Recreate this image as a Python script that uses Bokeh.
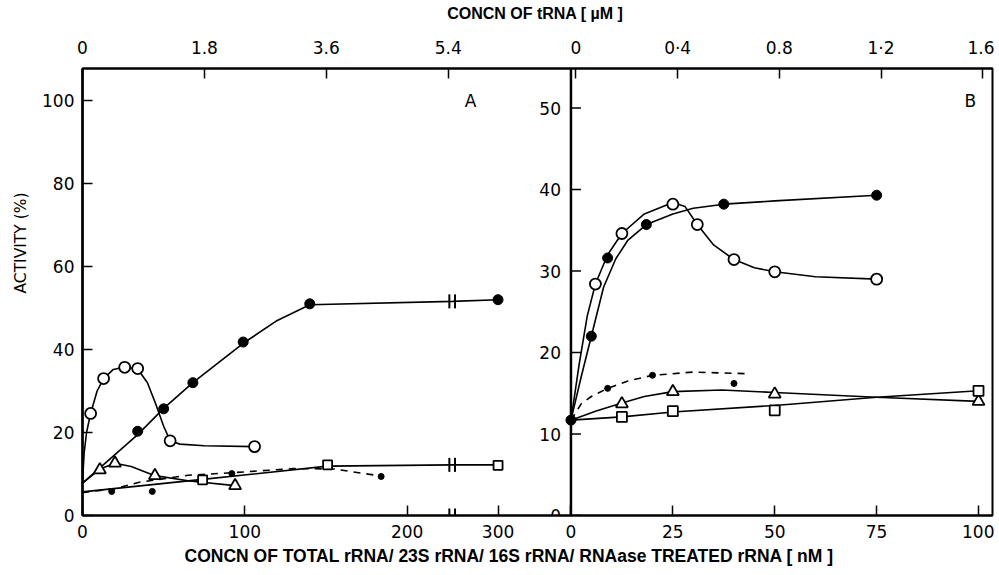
from bokeh.plotting import figure
from bokeh.models import Range1d, LinearAxis, FixedTicker, Label, Title
from bokeh.core.properties import value
from bokeh.embed import file_html
from bokeh.resources import INLINE

# ---------------- data ----------------
# Panel A : x = concentration of rRNA [nM], y = activity (%)
a_open_x = [5, 13, 26, 34, 54, 106]
a_open_y = [24.6, 33.0, 35.7, 35.4, 18.0, 16.6]
a_open_curve_x = [0, 1, 2.5, 5, 9, 13, 19, 26, 34, 40, 45, 50, 54, 60, 75, 106]
a_open_curve_y = [8.0, 15.0, 20.0, 24.6, 30.0, 33.0, 35.2, 35.8, 35.3, 32.0, 27.0, 21.5, 18.0, 17.2, 16.8, 16.6]

a_filled_x = [34, 50, 68, 99, 140, 300]
a_filled_y = [20.3, 25.7, 32.0, 41.8, 51.0, 52.0]
a_filled_curve_x = [0, 34, 50, 68, 99, 120, 140, 228, 300]
a_filled_curve_y = [7.8, 19.5, 25.8, 32.0, 41.5, 47.0, 50.8, 51.6, 52.0]

a_tri_x = [10.7, 20, 44.6, 94]
a_tri_y = [11.0, 12.6, 9.6, 7.2]
a_tri_curve_x = [0, 10.7, 20, 30, 44.6, 66, 94]
a_tri_curve_y = [7.8, 11.2, 12.6, 11.8, 9.6, 8.3, 7.2]

a_sq_x = [74, 151, 300]
a_sq_y = [8.6, 12.2, 12.1]
a_sq_curve_x = [0, 74, 151, 228, 300]
a_sq_curve_y = [5.7, 8.7, 11.9, 12.2, 12.2]

a_dot_x = [18, 43, 92, 184]
a_dot_y = [5.8, 5.8, 10.1, 9.4]
a_dot_curve_x = [0, 20, 35, 65, 92, 130, 155, 184]
a_dot_curve_y = [5.5, 6.5, 8.0, 9.7, 10.3, 11.3, 11.2, 9.5]

# Panel B : x = concentration [nM], y = activity (%)
b_open_x = [6, 12.5, 25, 31, 40, 50, 75]
b_open_y = [28.4, 34.6, 38.2, 35.7, 31.4, 29.9, 29.0]
b_open_curve_x = [0, 2, 4, 6, 9, 12.5, 18, 25, 28, 31, 35, 40, 45, 50, 60, 75]
b_open_curve_y = [11.7, 18.5, 24.5, 28.4, 32.0, 34.6, 37.0, 38.4, 37.9, 35.7, 33.2, 31.4, 30.4, 29.9, 29.3, 29.0]

b_filled_x = [0, 5, 9, 18.5, 37.5, 75]
b_filled_y = [11.7, 22.0, 31.6, 35.7, 38.2, 39.3]
b_filled_curve_x = [0, 2.5, 5, 8, 11, 14, 18.5, 25, 30, 37.5, 50, 75]
b_filled_curve_y = [11.7, 17.0, 22.0, 28.0, 31.5, 33.8, 35.7, 37.0, 37.7, 38.2, 38.6, 39.3]

b_tri_x = [12.5, 25, 50, 100]
b_tri_y = [13.7, 15.2, 14.9, 14.0]
b_tri_curve_x = [0, 6, 12.5, 18, 25, 37, 50, 75, 100]
b_tri_curve_y = [11.7, 12.8, 13.8, 14.6, 15.2, 15.4, 15.1, 14.5, 14.0]

b_sq_x = [12.5, 25, 50, 100]
b_sq_y = [12.1, 12.8, 12.9, 15.3]
b_sq_curve_x = [0, 12.5, 25, 50, 75, 100]
b_sq_curve_y = [11.7, 12.1, 12.7, 13.5, 14.5, 15.3]

b_dot_x = [9, 20, 40]
b_dot_y = [15.6, 17.2, 16.2]
b_dot_curve_x = [0, 2.5, 5, 9, 14, 20, 30, 43]
b_dot_curve_y = [11.7, 13.7, 14.6, 15.6, 16.5, 17.2, 17.6, 17.4]

# tick values / labels
a_xticks = [0, 100, 200, 300]
a_xlabels = ["0", "100", "200", "300"]
b_xticks = [0, 25, 50, 75, 100]
b_xlabels = ["0", "25", "50", "75", "100"]
a_yticks = [0, 20, 40, 60, 80, 100]
b_yticks = [0, 10, 20, 30, 40, 50]
ta_ticks = [0, 1.8, 3.6, 5.4]
ta_labels = ["0", "1.8", "3.6", "5.4"]
tb_ticks = [0, 0.4, 0.8, 1.2, 1.6]
tb_labels = ["0", "0·4", "0.8", "1·2", "1.6"]

x_title = "CONCN OF TOTAL  rRNA/ 23S rRNA/ 16S rRNA/ RNAase TREATED rRNA [ nM ]"
top_title = "CONCN OF  tRNA [ µM ]"
y_title = "ACTIVITY (%)"

# ---------------- layout constants ----------------
FRAME_W, FRAME_H = 911, 447
A_PX_X, A_PX_Y = 1.625, 4.15      # px per unit, panel A
B_PX_X, B_PX_Y = 4.08, 8.15       # px per unit, panel B
B_X0 = 489                        # panel B origin, px from frame left
TA_PX = 67.8                      # px per uM (top, panel A)
TB_PX = 254.5                     # px per uM (top, panel B)
TB_X0 = 494
A_BREAK = 228                     # axis break in panel A
A_BREAK_SHIFT = 44

def a_ax(xs):
    return [x if x <= A_BREAK else x - A_BREAK_SHIFT for x in xs]

TICK_FONT = "DejaVu Sans"
TICK_SIZE = "17px"
LABEL_FONT = "Liberation Sans"

p = figure(width=994, height=575, output_backend="svg", toolbar_location=None,
           title=None,
           x_range=Range1d(0, FRAME_W / A_PX_X), y_range=Range1d(0, FRAME_H / A_PX_Y),
           min_border_left=81, min_border_right=2, min_border_top=68, min_border_bottom=60)
p.extra_x_ranges = {"B": Range1d(-B_X0 / B_PX_X, (FRAME_W - B_X0) / B_PX_X),
                    "TA": Range1d(0, FRAME_W / TA_PX)}
p.extra_y_ranges = {"B": Range1d(0, FRAME_H / B_PX_Y)}
p.xgrid.visible = False
p.ygrid.visible = False
p.outline_line_color = "black"
p.outline_line_width = 2
p.background_fill_color = "white"
p.border_fill_color = "white"

def style_axis(ax):
    ax.axis_line_width = 2
    ax.axis_line_color = "black"
    ax.major_tick_in = 10
    ax.major_tick_out = 0
    ax.major_tick_line_width = 1.5
    ax.minor_tick_line_color = None
    ax.major_label_text_font = TICK_FONT
    ax.major_label_text_font_size = TICK_SIZE
    ax.major_label_text_color = "black"
    ax.axis_label_text_font_style = "bold"
    ax.axis_label_text_color = "black"

# bottom axis (panel A + panel B ticks on one line)
bot_pos = [round(v, 3) for v in a_ax(a_xticks)] + \
          [round((B_X0 + t * B_PX_X) / A_PX_X, 3) for t in b_xticks]
bot_lab = a_xlabels + b_xlabels
xax = p.xaxis[0]
style_axis(xax)
xax.ticker = FixedTicker(ticks=bot_pos)
xax.major_label_overrides = dict(zip(bot_pos, bot_lab))
xax.major_label_standoff = 9

# left axis (panel A)
yax = p.yaxis[0]
style_axis(yax)
yax.axis_line_width = 2.5
yax.ticker = FixedTicker(ticks=a_yticks)
yax.major_label_standoff = 8

# top axis (tRNA concentration)
top_pos = [round(t * 1.0, 3) for t in ta_ticks] + \
          [round((TB_X0 + t * TB_PX) / TA_PX, 3) for t in tb_ticks]
top_lab = ta_labels + tb_labels
tax = LinearAxis(x_range_name="TA", ticker=FixedTicker(ticks=top_pos))
style_axis(tax)
tax.major_label_overrides = dict(zip(top_pos, top_lab))
tax.major_label_standoff = 11
tax.axis_label = top_title
tax.axis_label_text_font = LABEL_FONT
tax.axis_label_text_font_size = "16px"
tax.axis_label_standoff = 13
p.add_layout(tax, "above")

# axis titles as side-panel titles (so they can be offset like the original)
p.add_layout(Title(text=x_title, align="left", offset=102, standoff=6,
                   text_font=LABEL_FONT, text_font_style="bold", text_font_size="17.5px",
                   text_color="black"), "below")
p.add_layout(Title(text=y_title, align="left", offset=222, standoff=19,
                   text_font="DejaVu Sans", text_font_style="normal", text_font_size="15.5px",
                   text_color="black"), "left")

# panel B y-axis (drawn inside the frame)
b_top = FRAME_H / B_PX_Y
p.segment(x0=[0], y0=[0], x1=[0], y1=[b_top], line_color="black", line_width=2.5,
          x_range_name="B", y_range_name="B")
tick_len = 10 / B_PX_X
p.segment(x0=[0] * len(b_yticks), y0=b_yticks, x1=[tick_len] * len(b_yticks), y1=b_yticks,
          line_color="black", line_width=1.5, x_range_name="B", y_range_name="B")
p.text(x=[0] * len(b_yticks), y=b_yticks, text=[str(t) for t in b_yticks],
       x_offset=-10, text_align="right", text_baseline="middle",
       text_font=value(TICK_FONT), text_font_size=TICK_SIZE, text_color="black",
       x_range_name="B", y_range_name="B")

LW = 1.6
# ---------- panel A ----------
p.line(a_ax(a_open_curve_x), a_open_curve_y, line_color="black", line_width=LW)
p.line(a_ax(a_filled_curve_x), a_filled_curve_y, line_color="black", line_width=LW)
p.line(a_ax(a_tri_curve_x), a_tri_curve_y, line_color="black", line_width=LW)
p.line(a_ax(a_sq_curve_x), a_sq_curve_y, line_color="black", line_width=LW)
p.line(a_ax(a_dot_curve_x), a_dot_curve_y, line_color="black", line_width=LW, line_dash="7 6")

p.scatter(a_ax(a_open_x), a_open_y, marker="circle", size=11, fill_color="white",
          line_color="black", line_width=1.8)
p.scatter(a_ax(a_filled_x), a_filled_y, marker="circle", size=10, fill_color="black",
          line_color="black")
p.scatter(a_ax(a_tri_x), a_tri_y, marker="triangle", size=12, fill_color="white",
          line_color="black", line_width=1.8)
p.scatter(a_ax(a_sq_x), a_sq_y, marker="square", size=9, fill_color="white",
          line_color="black", line_width=1.8)
p.scatter(a_ax(a_dot_x), a_dot_y, marker="circle", size=6, fill_color="black",
          line_color="black")

# axis-break marks (on axis and on the two lines that cross the break)
brk_levels = [0, a_filled_curve_y[a_filled_curve_x.index(A_BREAK)],
              a_sq_curve_y[a_sq_curve_x.index(A_BREAK)]]
bx = [A_BREAK - 2.0, A_BREAK + 1.5]
bh = 7 / A_PX_Y
xs0, ys0, xs1, ys1 = [], [], [], []
for lv in brk_levels:
    for b in bx:
        xs0.append(b); xs1.append(b); ys0.append(lv - bh); ys1.append(lv + bh)
p.segment(x0=xs0, y0=ys0, x1=xs1, y1=ys1, line_color="black", line_width=2)

# ---------- panel B ----------
kw = dict(x_range_name="B", y_range_name="B")
p.line(b_open_curve_x, b_open_curve_y, line_color="black", line_width=LW, **kw)
p.line(b_filled_curve_x, b_filled_curve_y, line_color="black", line_width=LW, **kw)
p.line(b_tri_curve_x, b_tri_curve_y, line_color="black", line_width=LW, **kw)
p.line(b_sq_curve_x, b_sq_curve_y, line_color="black", line_width=LW, **kw)
p.line(b_dot_curve_x, b_dot_curve_y, line_color="black", line_width=LW, line_dash="7 6", **kw)

p.scatter(b_open_x, b_open_y, marker="circle", size=11, fill_color="white",
          line_color="black", line_width=1.8, **kw)
p.scatter(b_filled_x, b_filled_y, marker="circle", size=10, fill_color="black",
          line_color="black", **kw)
p.scatter(b_tri_x, b_tri_y, marker="triangle", size=12, fill_color="white",
          line_color="black", line_width=1.8, **kw)
p.scatter(b_sq_x, b_sq_y, marker="square", size=10, fill_color="white",
          line_color="black", line_width=1.8, **kw)
p.scatter(b_dot_x, b_dot_y, marker="circle", size=6, fill_color="black",
          line_color="black", **kw)

# panel letters
p.add_layout(Label(x=239, y=100, text="A", text_font=TICK_FONT, text_font_size="17px",
                   text_align="center", text_baseline="middle", text_color="black"))
p.add_layout(Label(x=98, y=50.9, text="B", text_font=TICK_FONT, text_font_size="17px",
                   text_align="center", text_baseline="middle", text_color="black",
                   x_range_name="B", y_range_name="B"))

open("out.html", "w").write(file_html(p, INLINE))
